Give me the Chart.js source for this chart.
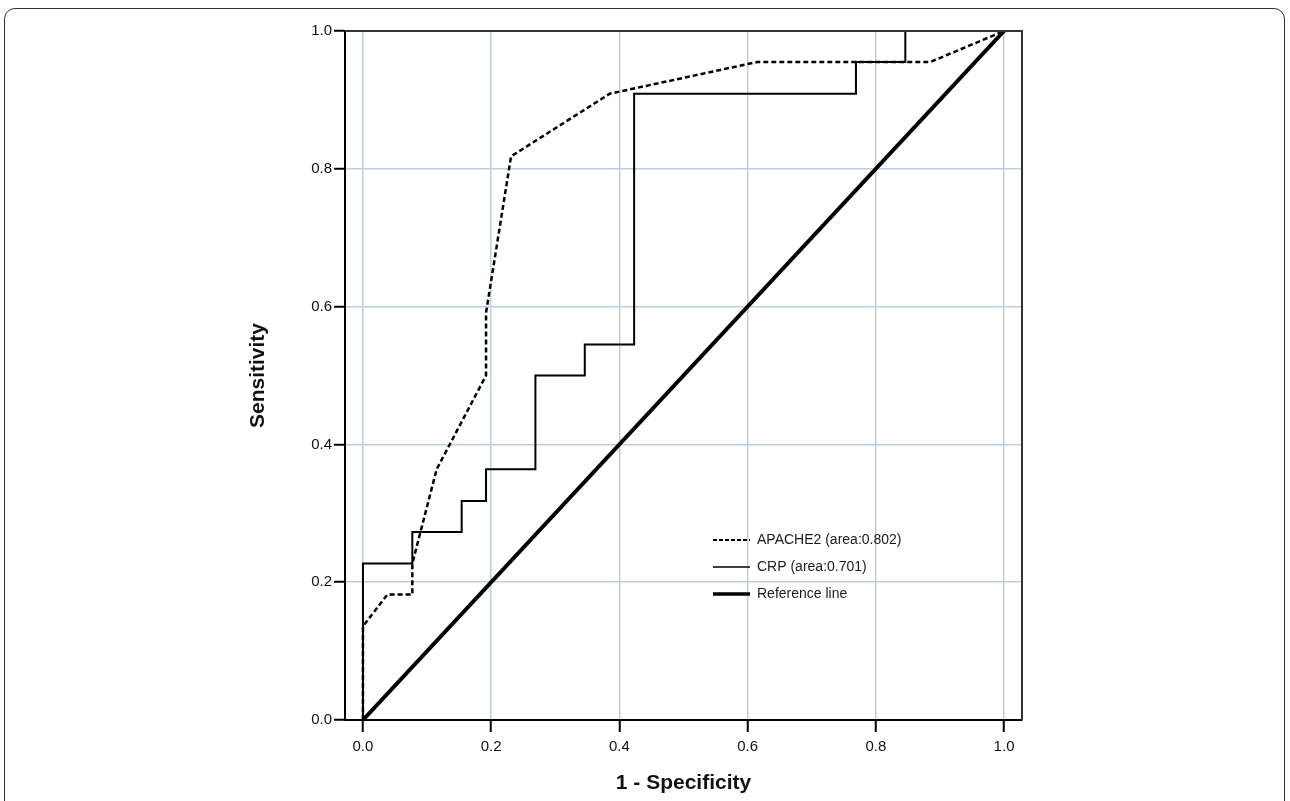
<!DOCTYPE html>
<html>
<head>
<meta charset="utf-8">
<script src="https://cdn.jsdelivr.net/npm/chart.js@4.4.1/dist/chart.umd.min.js"></script>
<style>
  html, body { margin: 0; padding: 0; background: #fff; }
  #wrap { position: relative; width: 1290px; height: 801px; overflow: hidden; }
  #frame { position: absolute; left: 4px; top: 8px; width: 1281px; height: 830px;
           border: 1.5px solid #333; border-radius: 11px; box-sizing: border-box; }
  canvas { position: absolute; left: 0; top: 0; }
</style>
</head>
<body>
<div id="wrap">
  <div id="frame"></div>
  <canvas id="roc" width="1290" height="801"></canvas>
</div>
<script>
// tick values
const xTicks = [0, 0.2, 0.4, 0.6, 0.8, 1.0];
const yTicks = [0, 0.2, 0.4, 0.6, 0.8, 1.0];

// APACHE2 ROC points (1 - specificity, sensitivity)
const apacheX = [0, 0, 0.038, 0.077, 0.077, 0.115, 0.192, 0.192, 0.231, 0.385, 0.615, 0.885, 1];
const apacheY = [0, 0.136, 0.182, 0.182, 0.227, 0.364, 0.5, 0.591, 0.818, 0.909, 0.955, 0.955, 1];

// CRP ROC points (step curve corners)
const crpX = [0, 0, 0.077, 0.077, 0.154, 0.154, 0.192, 0.192, 0.269, 0.269, 0.346, 0.346, 0.423, 0.423, 0.769, 0.769, 0.846, 0.846, 1];
const crpY = [0, 0.227, 0.227, 0.273, 0.273, 0.318, 0.318, 0.364, 0.364, 0.5, 0.5, 0.545, 0.545, 0.909, 0.909, 0.955, 0.955, 1, 1];

// diagonal reference
const refX = [0, 1];
const refY = [0, 1];

const labels = ['APACHE2 (area:0.802)', 'CRP (area:0.701)', 'Reference line'];

const pts = (xs, ys) => xs.map((x, i) => ({ x: x, y: ys[i] }));

Chart.defaults.font.family = '"Liberation Sans", Arial, sans-serif';
Chart.defaults.color = '#111';

// top and right border of the plot box
const plotFrame = {
  id: 'plotFrame',
  afterDatasetsDraw(chart) {
    const a = chart.chartArea, ctx = chart.ctx;
    ctx.save();
    ctx.strokeStyle = '#333';
    ctx.lineWidth = 2;
    ctx.beginPath();
    ctx.moveTo(a.left, a.top);
    ctx.lineTo(a.right, a.top);
    ctx.lineTo(a.right, a.bottom);
    ctx.stroke();
    ctx.restore();
  }
};

// legend in the style of the original
const lineLegend = {
  id: 'lineLegend',
  afterDraw(chart) {
    const ctx = chart.ctx;
    const x0 = 713, x1 = 750, tx = 757;
    const rows = [540, 567, 594];
    ctx.save();
    ctx.font = '14px "Liberation Sans", Arial, sans-serif';
    ctx.textBaseline = 'middle';
    ctx.fillStyle = '#1a1a1a';
    chart.data.datasets.forEach((ds, i) => {
      ctx.strokeStyle = '#000';
      ctx.lineWidth = ds.legendWidth;
      ctx.setLineDash(ds.legendDash || []);
      ctx.beginPath();
      ctx.moveTo(x0, rows[i]);
      ctx.lineTo(x1, rows[i]);
      ctx.stroke();
      ctx.setLineDash([]);
      ctx.fillText(ds.label, tx, rows[i]);
    });
    ctx.restore();
  }
};

new Chart(document.getElementById('roc'), {
  type: 'scatter',
  data: {
    datasets: [
      { label: labels[0], data: pts(apacheX, apacheY), borderColor: '#000', borderWidth: 2.5,
        borderDash: [5, 3], legendDash: [4, 2], legendWidth: 2 },
      { label: labels[1], data: pts(crpX, crpY), borderColor: '#000', borderWidth: 2,
        legendWidth: 1.6 },
      { label: labels[2], data: pts(refX, refY), borderColor: '#000', borderWidth: 4,
        legendWidth: 3.5 }
    ].map(d => Object.assign({ showLine: true, pointRadius: 0, pointHoverRadius: 0, tension: 0, fill: false }, d))
  },
  options: {
    responsive: false,
    animation: false,
    devicePixelRatio: 1,
    layout: { padding: { left: 236, right: 268, top: 31, bottom: 0 } },
    plugins: { legend: { display: false }, tooltip: { enabled: false } },
    scales: {
      x: {
        type: 'linear', min: -0.028, max: 1.028,
        afterBuildTicks: s => { s.ticks = xTicks.map(v => ({ value: v })); },
        afterFit: s => { s.height = 81; },
        grid: { color: '#bccfe2', lineWidth: 1.5, tickLength: 12, tickColor: '#000', tickWidth: 2 },
        border: { color: '#000', width: 2 },
        ticks: { color: '#111', font: { size: 15 }, padding: 6, callback: v => v.toFixed(1) },
        title: { display: true, text: '1 - Specificity', color: '#111',
                 font: { size: 21, weight: 'bold' }, padding: { top: 0, bottom: 5 } }
      },
      y: {
        type: 'linear', min: 0, max: 1,
        afterBuildTicks: s => { s.ticks = yTicks.map(v => ({ value: v })); },
        afterFit: s => { s.width = 109; },
        grid: { color: '#bccfe2', lineWidth: 1.5, tickLength: 11, tickColor: '#000', tickWidth: 2 },
        border: { color: '#000', width: 2 },
        ticks: { color: '#111', font: { size: 15 }, padding: 2, callback: v => v.toFixed(1) },
        title: { display: true, text: 'Sensitivity', color: '#111',
                 font: { size: 21, weight: 'bold' }, padding: { top: 10, bottom: 0 } }
      }
    }
  },
  plugins: [plotFrame, lineLegend]
});
</script>
</body>
</html>
